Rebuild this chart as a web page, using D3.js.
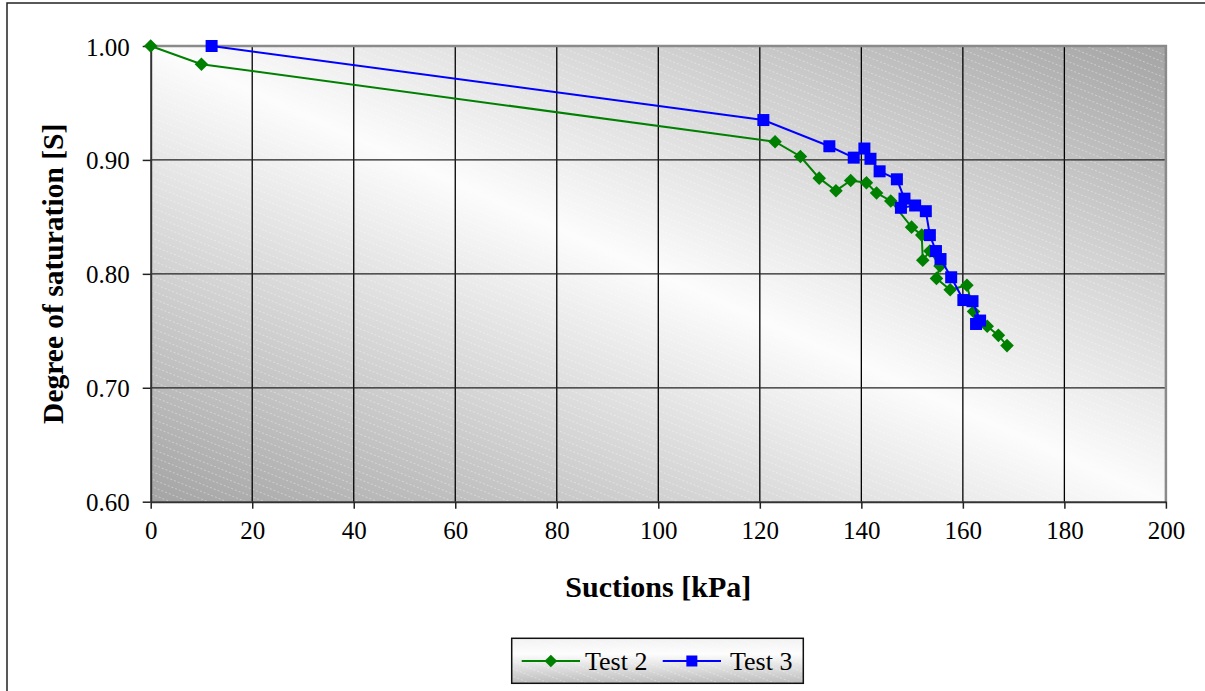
<!DOCTYPE html>
<html>
<head>
<meta charset="utf-8">
<script src="https://cdn.jsdelivr.net/npm/d3@7"></script>
<style>
  html, body { margin: 0; padding: 0; background: #ffffff; }
  svg { display: block; }
</style>
</head>
<body>
<svg id="chart" width="1205" height="691"></svg>
<script>
// Test 2: suction [kPa] and degree of saturation
const test2Suction    = [0, 10, 123, 128, 131.7, 135, 137.9, 141, 143, 145.8, 149.9, 151.9, 152.1, 153.5, 155.5, 154.8, 157.5, 160.8, 162.1, 164.8, 167, 168.7];
const test2Saturation = [1.000, 0.984, 0.916, 0.903, 0.884, 0.873, 0.882, 0.880, 0.871, 0.864, 0.841, 0.834, 0.812, 0.820, 0.807, 0.796, 0.786, 0.790, 0.767, 0.754, 0.746, 0.737];

// Test 3: suction [kPa] and degree of saturation
const test3Suction    = [12, 120.7, 133.7, 138.5, 140.6, 141.8, 143.6, 147, 148.5, 147.8, 150.6, 152.7, 153.5, 154.7, 155.6, 157.7, 160.1, 161.9, 163.4, 162.6];
const test3Saturation = [1.000, 0.935, 0.912, 0.902, 0.910, 0.901, 0.890, 0.883, 0.866, 0.858, 0.860, 0.855, 0.834, 0.820, 0.813, 0.797, 0.777, 0.776, 0.759, 0.756];

// Axis ticks and labels
const xTicks = [0, 20, 40, 60, 80, 100, 120, 140, 160, 180, 200];
const yTicks = [0.60, 0.70, 0.80, 0.90, 1.00];
const seriesNames = ["Test 2", "Test 3"];
const xTitle = "Suctions [kPa]";
const yTitle = "Degree of saturation [S]";

const svg = d3.select("#chart");
const serif = "'Liberation Serif', 'Times New Roman', serif";

const plot = { left: 150.7, right: 1165.9, top: 46, bottom: 501.7 };
const x = d3.scaleLinear().domain([0, 200]).range([plot.left, plot.right]);
const y = d3.scaleLinear().domain([0.6, 1.0]).range([plot.bottom, plot.top]);

const defs = svg.append("defs");

// Diagonal gray-white-gray fill for the plot area
const pg = defs.append("linearGradient").attr("id", "plotFill")
  .attr("x1", 0).attr("y1", 1).attr("x2", 1).attr("y2", 0);
pg.append("stop").attr("offset", 0).attr("stop-color", "#a4a4a4");
pg.append("stop").attr("offset", 0.5).attr("stop-color", "#fcfcfc");
pg.append("stop").attr("offset", 1).attr("stop-color", "#a4a4a4");

// Softer fill for the legend box
const lg = defs.append("linearGradient").attr("id", "legendFill")
  .attr("x1", 0).attr("y1", 0).attr("x2", 0).attr("y2", 1);
lg.append("stop").attr("offset", 0).attr("stop-color", "#f2f2f2");
lg.append("stop").attr("offset", 0.35).attr("stop-color", "#fdfdfd");
lg.append("stop").attr("offset", 1).attr("stop-color", "#bdbdbd");

// Faint dashed diagonal hatch
const hatch = defs.append("pattern").attr("id", "hatch")
  .attr("patternUnits", "userSpaceOnUse")
  .attr("width", 40).attr("height", 7)
  .attr("patternTransform", "rotate(21.8)");
hatch.append("line")
  .attr("x1", 0).attr("x2", 40).attr("y1", 3.5).attr("y2", 3.5)
  .attr("stroke", "#ffffff").attr("stroke-opacity", 0.35)
  .attr("stroke-width", 1).attr("stroke-dasharray", "2,2");

// Outer chart frame
svg.append("rect")
  .attr("x", 7).attr("y", 3).attr("width", 1210).attr("height", 700)
  .attr("fill", "#ffffff").attr("stroke", "#222").attr("stroke-width", 1.5);

// Plot area background
svg.append("rect")
  .attr("x", plot.left).attr("y", plot.top)
  .attr("width", plot.right - plot.left).attr("height", plot.bottom - plot.top)
  .attr("fill", "url(#plotFill)");
svg.append("rect")
  .attr("x", plot.left).attr("y", plot.top)
  .attr("width", plot.right - plot.left).attr("height", plot.bottom - plot.top)
  .attr("fill", "url(#hatch)");

// Gridlines
svg.append("g").selectAll("line")
  .data(xTicks.filter(d => d > 0 && d < 200))
  .join("line")
  .attr("x1", d => x(d)).attr("x2", d => x(d))
  .attr("y1", plot.top).attr("y2", plot.bottom)
  .attr("stroke", "#000").attr("stroke-width", 1.3);
svg.append("g").selectAll("line")
  .data(yTicks.filter(d => d > 0.6 && d < 1.0))
  .join("line")
  .attr("x1", plot.left).attr("x2", plot.right)
  .attr("y1", d => y(d)).attr("y2", d => y(d))
  .attr("stroke", "#222").attr("stroke-width", 1.3);

// Plot border on top and right
svg.append("path")
  .attr("d", `M${plot.left},${plot.top}H${plot.right}V${plot.bottom}`)
  .attr("fill", "none").attr("stroke", "#8a8a8a").attr("stroke-width", 2.5);

// Axes
const xAxis = svg.append("g")
  .attr("transform", `translate(0,${plot.bottom})`)
  .call(d3.axisBottom(x).tickValues(xTicks).tickSize(7).tickSizeOuter(0).tickPadding(25).tickFormat(d3.format("d")));
const yAxis = svg.append("g")
  .attr("transform", `translate(${plot.left},0)`)
  .call(d3.axisLeft(y).tickValues(yTicks).tickSize(8).tickSizeOuter(0).tickPadding(13).tickFormat(d3.format(".2f")));

[xAxis, yAxis].forEach(ax => {
  ax.select(".domain").attr("stroke", "#333").attr("stroke-width", 2);
  ax.selectAll(".tick line").attr("stroke", "#222").attr("stroke-width", 1.5);
  ax.selectAll(".tick text")
    .attr("font-family", serif).attr("font-size", 25).attr("fill", "#000");
});
xAxis.selectAll(".tick text").attr("dy", "0.2em");
yAxis.selectAll(".tick text").attr("dy", "0.36em");

// Axis titles
svg.append("text")
  .attr("x", (plot.left + plot.right) / 2).attr("y", 597)
  .attr("text-anchor", "middle")
  .attr("font-family", serif).attr("font-weight", "bold").attr("font-size", 30)
  .text(xTitle);
svg.append("text")
  .attr("transform", `translate(63,${(plot.top + plot.bottom) / 2}) rotate(-90)`)
  .attr("text-anchor", "middle")
  .attr("font-family", serif).attr("font-weight", "bold").attr("font-size", 29.5)
  .text(yTitle);

// Series
const series = [
  { name: seriesNames[0], xs: test2Suction, ys: test2Saturation, color: "#008000", shape: "diamond" },
  { name: seriesNames[1], xs: test3Suction, ys: test3Saturation, color: "#0000ff", shape: "square" }
];

const line = d3.line().x(d => x(d[0])).y(d => y(d[1]));

function drawMarker(g, shape, color, size) {
  const r = g.append("rect")
    .attr("x", -size / 2).attr("y", -size / 2)
    .attr("width", size).attr("height", size)
    .attr("fill", color);
  if (shape === "diamond") r.attr("transform", "rotate(45)");
}

series.forEach(s => {
  const pts = s.xs.map((v, i) => [v, s.ys[i]]);
  svg.append("path")
    .datum(pts)
    .attr("d", line)
    .attr("fill", "none")
    .attr("stroke", s.color)
    .attr("stroke-width", 2);
  const mg = svg.append("g");
  pts.forEach(p => {
    const g = mg.append("g").attr("transform", `translate(${x(p[0])},${y(p[1])})`);
    drawMarker(g, s.shape, s.color, s.shape === "diamond" ? 9.6 : 12);
  });
});

// Legend
const legend = svg.append("g");
legend.append("rect")
  .attr("x", 511.7).attr("y", 638.3).attr("width", 291.6).attr("height", 45)
  .attr("fill", "url(#legendFill)");
legend.append("rect")
  .attr("x", 511.7).attr("y", 638.3).attr("width", 291.6).attr("height", 45)
  .attr("fill", "url(#hatch)")
  .attr("stroke", "#111").attr("stroke-width", 1.5);

const legendItems = [
  { s: series[0], x1: 521.7, x2: 580, tx: 585 },
  { s: series[1], x1: 662.7, x2: 721, tx: 730 }
];
legendItems.forEach(it => {
  const ly = 661;
  legend.append("line")
    .attr("x1", it.x1).attr("x2", it.x2).attr("y1", ly).attr("y2", ly)
    .attr("stroke", it.s.color).attr("stroke-width", 2);
  const g = legend.append("g").attr("transform", `translate(${(it.x1 + it.x2) / 2},${ly})`);
  drawMarker(g, it.s.shape, it.s.color, it.s.shape === "diamond" ? 9 : 11);
  legend.append("text")
    .attr("x", it.tx).attr("y", ly + 8.5)
    .attr("font-family", serif).attr("font-size", 26)
    .text(it.s.name);
});
</script>
</body>
</html>
